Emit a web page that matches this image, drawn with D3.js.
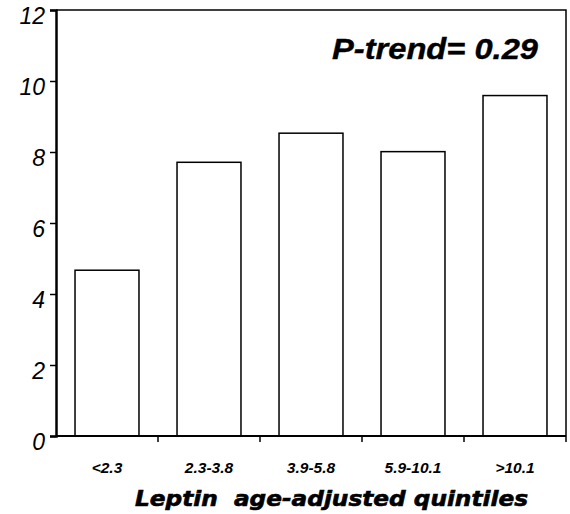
<!DOCTYPE html>
<html>
<head>
<meta charset="utf-8">
<script src="https://cdn.jsdelivr.net/npm/d3@7"></script>
<style>
  html, body { margin: 0; padding: 0; background: #fff; }
  svg { display: block; }
</style>
</head>
<body>
<svg id="chart" width="570" height="514"></svg>
<script>
// Leptin quintile categories and the bar values
const categories = ["<2.3", "2.3-3.8", "3.9-5.8", "5.9-10.1", ">10.1"];
const values = [4.67, 7.71, 8.53, 8.01, 9.59];
const yTicks = [0, 2, 4, 6, 8, 10, 12];
const trendLabel = "P-trend= 0.29";
const xTitle = "Leptin\u00a0 age-adjusted quintiles";

const svg = d3.select("#chart");
const plotLeft = 56, plotRight = 566, plotTop = 10, plotBottom = 436;
const arial = "'Liberation Sans', Arial, sans-serif";

const x = d3.scaleBand()
  .domain(categories)
  .range([plotLeft, plotRight])
  .paddingInner(0.373)
  .paddingOuter(0.1865);

const y = d3.scaleLinear().domain([0, 12]).range([plotBottom, plotTop]);

// frame: top and right edges
svg.append("path")
  .attr("d", `M${plotLeft},${plotTop}H${plotRight}V${plotBottom}`)
  .attr("fill", "none")
  .attr("stroke", "#000")
  .attr("stroke-width", 1.5);

// bars
svg.append("g").selectAll("rect")
  .data(values)
  .join("rect")
  .attr("x", (d, i) => x(categories[i]))
  .attr("y", d => y(d))
  .attr("width", x.bandwidth())
  .attr("height", d => y(0) - y(d))
  .attr("fill", "#fff")
  .attr("stroke", "#000")
  .attr("stroke-width", 1.5);

// y axis
const yAxis = svg.append("g")
  .attr("transform", `translate(${plotLeft},0)`)
  .call(d3.axisLeft(y).tickValues(yTicks).tickSize(6).tickPadding(5).tickFormat(d3.format("d")));
yAxis.select(".domain").attr("stroke-width", 2.5);
yAxis.selectAll(".tick line").attr("stroke-width", 1.5);
yAxis.selectAll("text")
  .attr("dy", "0.6em")
  .style("font-family", arial)
  .style("font-style", "italic")
  .style("font-size", "23px")
  .attr("fill", "#000");

// x axis with ticks at the band boundaries
const boundaries = categories.map(c => x(c) - x.step() * x.paddingInner() / 2 + x.step());
const xAxis = svg.append("g").attr("transform", `translate(0,${plotBottom})`);
xAxis.append("line")
  .attr("x1", plotLeft).attr("x2", plotRight)
  .attr("stroke", "#000").attr("stroke-width", 2);
xAxis.selectAll("line.tk")
  .data(boundaries)
  .join("line")
  .attr("class", "tk")
  .attr("x1", d => d).attr("x2", d => d)
  .attr("y1", 0).attr("y2", 6)
  .attr("stroke", "#000").attr("stroke-width", 1.5);
xAxis.selectAll("text")
  .data(categories)
  .join("text")
  .attr("x", d => x(d) + x.bandwidth() / 2)
  .attr("y", 36.5)
  .attr("text-anchor", "middle")
  .style("font-family", arial)
  .style("font-style", "italic")
  .style("font-weight", "bold")
  .style("font-size", "15.5px")
  .text(d => d);

// axis title
svg.append("text")
  .attr("x", 135)
  .attr("y", 506)
  .attr("textLength", 393)
  .attr("lengthAdjust", "spacingAndGlyphs")
  .attr("stroke", "#000")
  .attr("stroke-width", 0.6)
  .style("font-family", "'DejaVu Sans', Verdana, sans-serif")
  .style("font-style", "italic")
  .style("font-weight", "bold")
  .style("font-size", "20.5px")
  .text(xTitle);

// trend annotation
svg.append("text")
  .attr("x", 332)
  .attr("y", 59)
  .attr("textLength", 206)
  .attr("lengthAdjust", "spacingAndGlyphs")
  .attr("stroke", "#000")
  .attr("stroke-width", 0.4)
  .style("font-family", arial)
  .style("font-style", "italic")
  .style("font-weight", "bold")
  .style("font-size", "30px")
  .text(trendLabel);
</script>
</body>
</html>
